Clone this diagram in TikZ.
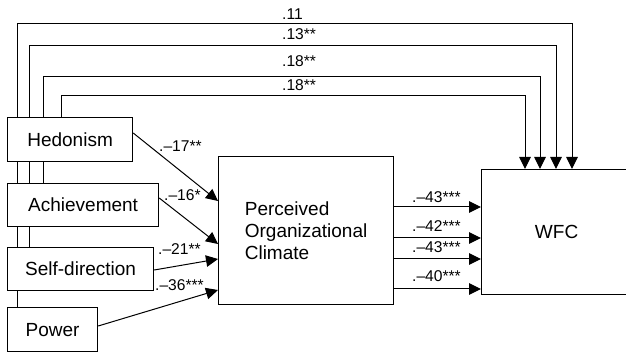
\documentclass[tikz,border=0pt]{standalone}
\usepackage{fontspec}
\setmainfont{Liberation Sans}
\usetikzlibrary{arrows.meta,calc,backgrounds}
\begin{document}
\begin{tikzpicture}[x=1pt,y=-1pt,
  box/.style={draw,line width=1.2pt,fill=white,inner sep=0pt,anchor=north west,font=\fontsize{19}{22}\selectfont},
  lab/.style={anchor=base west,inner sep=0pt,font=\fontsize{15.6}{18}\selectfont},
  arr/.style={line width=1pt,-{Triangle[length=12pt,width=11.5pt]}},
]
\useasboundingbox (0,0) rectangle (626,352);
\clip (0,0) rectangle (626,352);
% boxes
\node[box,minimum width=125,minimum height=44] (hed) at (7,117) {Hedonism};
\node[box,minimum width=151,minimum height=43] (ach) at (7,183) {Achievement};
\node[box,minimum width=146,minimum height=43] (sd) at (7,247) {Self-direction};
\node[box,minimum width=90,minimum height=44] (pw) at (7,307) {Power};
\node[box,minimum width=175,minimum height=148] (poc) at (218,156) {};
\node[font=\fontsize{19}{22}\selectfont,align=left] (poct) at (poc.center) {Perceived\\Organizational\\Climate};
\node[box,minimum width=150,minimum height=125] (wfc) at (481,169) {WFC};
% direct paths (behind boxes)
\begin{scope}[on background layer]
\draw[arr] ($(pw.north west)+(10,0)$) |- (572,24) -- (wfc.north -| 572,0);
\draw[arr] ($(sd.north west)+(22,0)$) |- (556,46) -- (wfc.north -| 556,0);
\draw[arr] ($(ach.north west)+(36,0)$) |- (540,77) -- (wfc.north -| 540,0);
\draw[arr] ($(hed.north west)+(54,0)$) |- (525,96) -- (wfc.north -| 525,0);
\end{scope}
% predictors to climate
\draw[arr] ($(hed.north east)+(0,16)$) -- ($(poc.north west)+(0,45)$);
\draw[arr] ($(ach.north east)+(0,15)$) -- ($(poc.north west)+(0,88)$);
\draw[arr] ($(sd.north east)+(0,23)$) -- ($(poc.north west)+(0,103)$);
\draw[arr] ($(pw.north east)+(0,19)$) -- ($(poc.north west)+(0,134)$);
% climate to WFC
\coordinate (c1) at ($(poc.north east)+(0,51)$);
\coordinate (c2) at ($(poc.north east)+(0,82)$);
\coordinate (c3) at ($(poc.north east)+(0,103)$);
\coordinate (c4) at ($(poc.north east)+(0,133)$);
\draw[arr] (c1) -- (wfc.west |- c1);
\draw[arr] (c2) -- (wfc.west |- c2);
\draw[arr] (c3) -- (wfc.west |- c3);
\draw[arr] (c4) -- (wfc.west |- c4);
% labels
\node[lab] (t1) at (282,20) {.11};
\node[lab] (t2) at (282,40) {.13**};
\node[lab] (t3) at (282,67) {.18**};
\node[lab] (t4) at (282,91) {.18**};
\node[lab] (p1) at (159,152) {.–17**};
\node[lab] (p2) at (164,201) {.–16*};
\node[lab] (p3) at (158,255) {.–21**};
\node[lab] (p4) at (155,291) {.–36***};
\node[lab] (w1) at (412,203) {.–43***};
\node[lab] (w2) at (412,232) {.–42***};
\node[lab] (w3) at (412,253) {.–43***};
\node[lab] (w4) at (412,282) {.–40***};
\end{tikzpicture}
\end{document}
